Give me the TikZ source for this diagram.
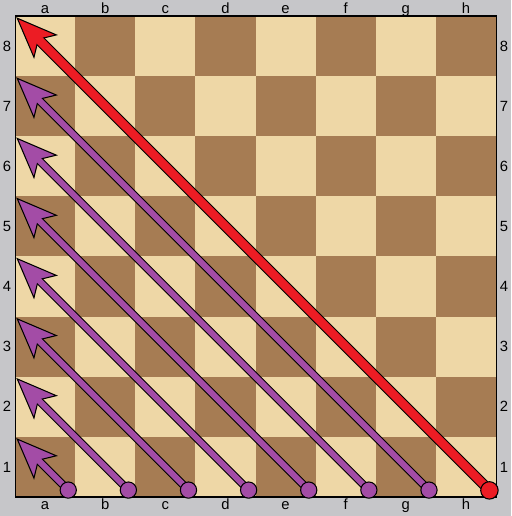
\documentclass[tikz,border=0pt]{standalone}
\usepackage{fontspec}
\setmainfont{Liberation Sans}
\usetikzlibrary{arrows.meta}
\definecolor{boardgrey}{RGB}{198,198,201}
\definecolor{lightsq}{RGB}{238,215,166}
\definecolor{darksq}{RGB}{166,124,83}
\definecolor{movepurple}{RGB}{163,76,166}
\definecolor{movered}{RGB}{236,28,36}

\begin{document}
\begin{tikzpicture}[x=1cm,y=1cm,
    every node/.style={font=\fontsize{7}{8}\selectfont},
    file label/.style={anchor=base,inner sep=0},
    rank label/.style={inner sep=0},
    start dot/.style={circle,draw,line width=0.5pt,minimum size=0.27cm,inner sep=0},
    move outline/.style={draw=black,line width=3.8pt,-{Stealth[length=0.7cm,width=0.56cm,inset=0.17cm,line width=0.5pt,fill=#1]}},
    move fill/.style={draw=#1,line width=2.8pt,shorten >=0.4cm}]
        \useasboundingbox[fill=boardgrey] (-0.25,-0.316) rectangle (8.25,8.266);

        % board
        \fill[lightsq] (0,0) rectangle (8,8);
        \foreach \f in {0,...,7}
            \foreach \r in {0,...,7}{
                \pgfmathtruncatemacro\sq{mod(\f+\r,2)}
                \ifnum\sq=0 \fill[darksq] (\f,\r) rectangle ++(1,1); \fi
            }
        \draw[line width=0.5pt] (0,0) rectangle (8,8);

        \foreach \l [count=\i] in {a,b,c,d,e,f,g,h}{
            \node[file label] (top\l) at (\i-0.5, 8.045) {\l};
            \node[file label] (bot\l) at (\i-0.5, -0.21) {\l};
        }
        \foreach \i in {1,...,8}{
            \node[rank label] (left\i) at (-0.133, \i-0.5) {\i};
            \node[rank label] (right\i) at (8.133, \i-0.5) {\i};
        }

        % moves
        \coordinate (s1) at (0.885, 0.115);
        \coordinate (s2) at (1.885, 0.115);
        \coordinate (s3) at (2.885, 0.115);
        \coordinate (s4) at (3.885, 0.115);
        \coordinate (s5) at (4.885, 0.115);
        \coordinate (s6) at (5.885, 0.115);
        \coordinate (s7) at (6.885, 0.115);
        \coordinate (s8) at (7.89, 0.11);
        \coordinate (t1) at (0.02, 0.98);
        \coordinate (t2) at (0.02, 1.98);
        \coordinate (t3) at (0.02, 2.98);
        \coordinate (t4) at (0.02, 3.98);
        \coordinate (t5) at (0.02, 4.98);
        \coordinate (t6) at (0.02, 5.98);
        \coordinate (t7) at (0.02, 6.98);
        \coordinate (t8) at (0.02, 7.98);

        \path
            (s1) edge[move outline=movepurple] (t1)
            (s1) edge[move fill=movepurple] (t1)
            (s2) edge[move outline=movepurple] (t2)
            (s2) edge[move fill=movepurple] (t2)
            (s3) edge[move outline=movepurple] (t3)
            (s3) edge[move fill=movepurple] (t3)
            (s4) edge[move outline=movepurple] (t4)
            (s4) edge[move fill=movepurple] (t4)
            (s5) edge[move outline=movepurple] (t5)
            (s5) edge[move fill=movepurple] (t5)
            (s6) edge[move outline=movepurple] (t6)
            (s6) edge[move fill=movepurple] (t6)
            (s7) edge[move outline=movepurple] (t7)
            (s7) edge[move fill=movepurple] (t7)
            (s8) edge[move outline=movered, line width=5pt] (t8)
            (s8) edge[move fill=movered, line width=4pt] (t8)
            ;

        \node[start dot, fill=movepurple] (d1) at (s1) {};
        \node[start dot, fill=movepurple] (d2) at (s2) {};
        \node[start dot, fill=movepurple] (d3) at (s3) {};
        \node[start dot, fill=movepurple] (d4) at (s4) {};
        \node[start dot, fill=movepurple] (d5) at (s5) {};
        \node[start dot, fill=movepurple] (d6) at (s6) {};
        \node[start dot, fill=movepurple] (d7) at (s7) {};
        \node[start dot, fill=movered, minimum size=0.29cm] (d8) at (s8) {};
    \end{tikzpicture}
\end{document}
